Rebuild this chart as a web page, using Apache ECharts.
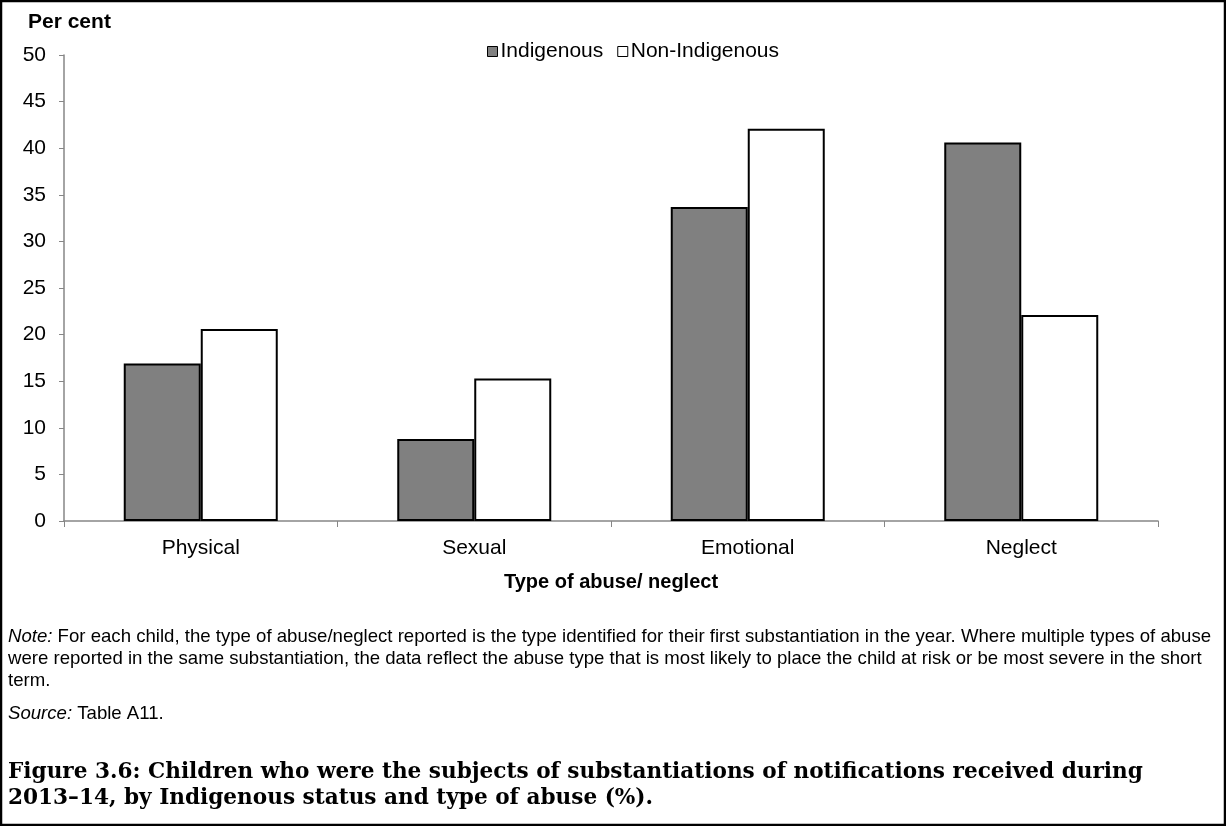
<!DOCTYPE html>
<html lang="en">
<head>
    <meta charset="UTF-8">
    <title>fig-3-6</title>
    <script src="https://cdn.jsdelivr.net/npm/echarts@6/dist/echarts.min.js"></script>
    <style>
        body { margin: 0; background: #fff; }
    </style>
</head>
<body>
<div id="main" style="width: 1226px;height:826px;"></div>
<script>
    // data
    var categories = ["Physical", "Sexual", "Emotional", "Neglect"];
    var indigenous = [16.9, 8.8, 33.7, 40.6];
    var nonIndigenous = [20.6, 15.3, 42.1, 22.1];
    var seriesNames = ["Indigenous", "Non-Indigenous"];

    var noteText = "For each child, the type of abuse/neglect reported is the type identified for their first substantiation in the year. Where multiple types of abuse\nwere reported in the same substantiation, the data reflect the abuse type that is most likely to place the child at risk or be most severe in the short\nterm.";
    var captionText = "Figure 3.6: Children who were the subjects of substantiations of notifications received during\n2013\u201314, by Indigenous status and type of abuse (%).";

    var sans = '"Liberation Sans", Arial, sans-serif';

    var chart = echarts.init(document.getElementById("main"));
    var option = {
        backgroundColor: '#fff',
        animation: false,
        textStyle: { fontFamily: sans, color: '#000' },
        grid: { left: 64, right: 68, top: 55, bottom: 305, containLabel: false },
        legend: {
            data: seriesNames,
            top: 36,
            left: 482,
            itemWidth: 10,
            itemHeight: 10,
            itemGap: 14,
            icon: 'rect',
            itemStyle: { borderColor: '#000', borderWidth: 1 },
            textStyle: { fontSize: 21, color: '#000', padding: [0, 0, 0, -2] }
        },
        xAxis: {
            type: 'category',
            data: categories,
            name: 'Type of abuse/ neglect',
            nameLocation: 'middle',
            nameGap: 51,
            nameTextStyle: { fontSize: 20, fontWeight: 'bold', color: '#000' },
            axisLine: { lineStyle: { color: '#868686', width: 1.5 } },
            axisTick: { show: true, length: 6, lineStyle: { color: '#868686' } },
            axisLabel: { fontSize: 21, color: '#000', margin: 17 }
        },
        yAxis: {
            type: 'value',
            min: 0,
            max: 50,
            interval: 5,
            name: 'Per cent',
            nameLocation: 'end',
            nameGap: 22,
            nameTextStyle: { fontSize: 21, fontWeight: 'bold', color: '#000', align: 'left', padding: [0, 0, 0, -36] },
            axisLine: { show: true, lineStyle: { color: '#868686', width: 1.5 } },
            axisTick: { show: true, length: 5, lineStyle: { color: '#868686' } },
            axisLabel: { fontSize: 21, color: '#000', margin: 18 },
            splitLine: { show: false }
        },
        series: [
            {
                name: seriesNames[0],
                type: 'bar',
                barWidth: 77,
                barGap: '0%',
                itemStyle: { color: '#808080', borderColor: '#000', borderWidth: 2 },
                data: indigenous
            },
            {
                name: seriesNames[1],
                type: 'bar',
                barWidth: 77,
                barGap: '0%',
                itemStyle: { color: '#fff', borderColor: '#000', borderWidth: 2 },
                data: nonIndigenous
            }
        ],
        graphic: [
            {
                type: 'rect',
                shape: { x: 1, y: 1, width: 1224, height: 824 },
                style: { fill: 'none', stroke: '#000', lineWidth: 2.5 },
                silent: true
            },
            {
                type: 'text',
                left: 8,
                top: 626,
                style: {
                    text: '{i|Note:} ' + noteText,
                    fontSize: 18.6,
                    fontFamily: sans,
                    fill: '#000',
                    lineHeight: 22,
                    rich: { i: { fontStyle: 'italic', fontSize: 18.6, fontFamily: sans, lineHeight: 22 } }
                }
            },
            {
                type: 'text',
                left: 8,
                top: 704,
                style: {
                    text: '{i|Source:} Table A11.',
                    fontSize: 18.6,
                    fontFamily: sans,
                    fill: '#000',
                    rich: { i: { fontStyle: 'italic', fontSize: 18.6, fontFamily: sans } }
                }
            },
            {
                type: 'text',
                left: 8,
                top: 759,
                style: {
                    text: captionText,
                    fontSize: 21.6,
                    fontWeight: 'bold',
                    fontFamily: '"DejaVu Serif", "Liberation Serif", serif',
                    fill: '#000',
                    lineHeight: 26
                }
            }
        ]
    };
    chart.setOption(option);
</script>
</body>
</html>
